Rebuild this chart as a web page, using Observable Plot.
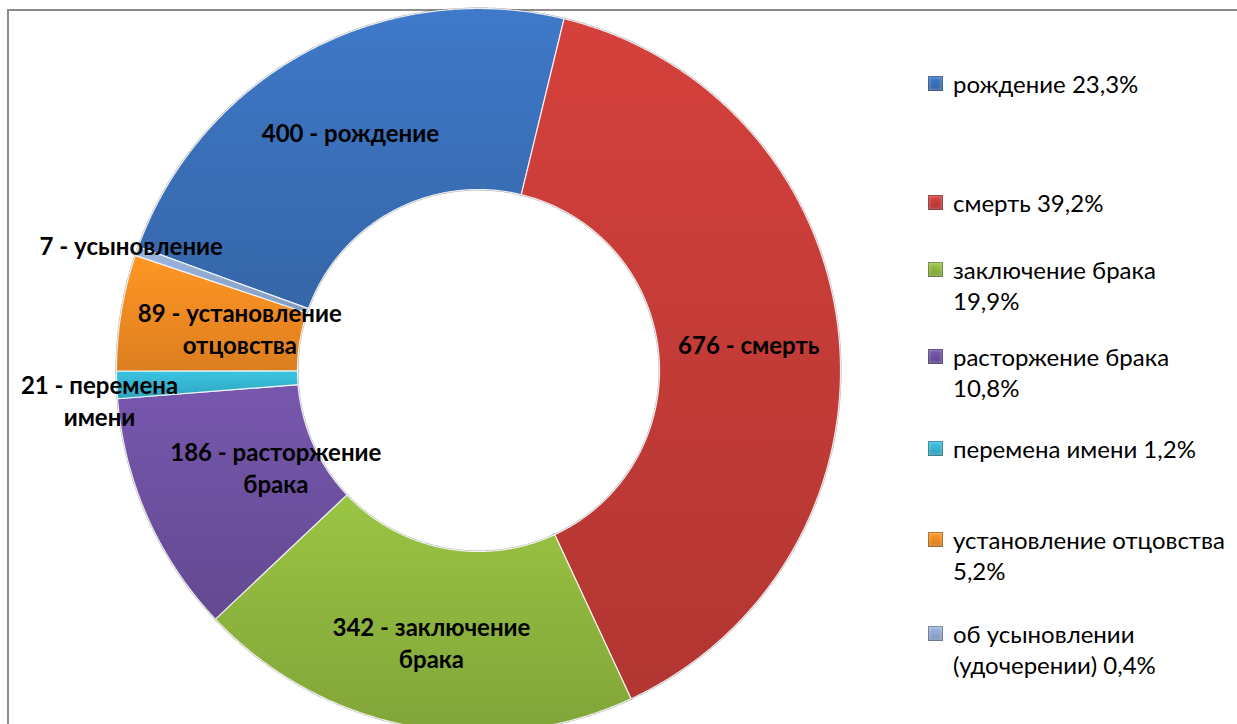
<!DOCTYPE html>
<html>
<head>
<meta charset="utf-8">
<script src="https://cdn.jsdelivr.net/npm/d3@7"></script>
<script src="https://cdn.jsdelivr.net/npm/@observablehq/plot@0.6"></script>
<style>
  body { margin: 0; background: #fff; font-family: Lato, "Open Sans", sans-serif; }
  #wrap { position: relative; width: 1237px; height: 724px; overflow: hidden; background: #fff; }
  #frame { position: absolute; left: 7px; top: 9px; width: 1260px; height: 760px;
           border-left: 2px solid #8c8c8c; border-top: 2px solid #8c8c8c; }
  #chart { position: absolute; left: 0; top: 0; }
  #legend { position: absolute; left: 928px; top: 0; }
  .item { position: absolute; left: 0; display: flex; align-items: flex-start;
          white-space: pre; font-size: 24px; line-height: 31px; color: #000; }
  .sw { width: 15px; height: 15px; margin-top: 8px; margin-right: 10px; flex: none;
        box-shadow: inset 0 0 0 1px rgba(0,0,0,0.3), inset 0 0 3px 2px rgba(255,255,255,0.25); }
</style>
</head>
<body>
<div id="wrap">
  <div id="frame"></div>
  <div id="chart"></div>
  <div id="legend"></div>
</div>
<script>
// ---- data ----
const categories = ["рождение", "смерть", "заключение брака", "расторжение брака",
                    "перемена имени", "установление отцовства", "об усыновлении (удочерении)"];
const values = [400, 676, 342, 186, 21, 89, 7];
const shortNames = ["рождение", "смерть", "заключение\nбрака", "расторжение\nбрака",
                    "перемена\nимени", "установление\nотцовства", "усыновление"];
const legendLabels = ["рождение 23,3%", "смерть 39,2%", "заключение брака\n19,9%",
                      "расторжение брака\n10,8%", "перемена имени 1,2%",
                      "установление отцовства\n5,2%", "об усыновлении\n(удочерении) 0,4%"];

// ---- style / layout ----
const colors = ["#3a6fb8", "#c33b37", "#8db43e", "#6d509f", "#35b4d0", "#ef8a22", "#8fa8d0"];
const labelRadius = [0.75, 0.75, 0.76, 0.62, 1.05, 0.67, 1.02];
const labelAngleNudge = [0, 0, -1, -1.5, -2.1, 1, 0.6];   // degrees
const legendTops = [68, 187, 254, 341, 433, 524, 618];
const firstSliceAngle = 290;   // degrees, clockwise from 12 o'clock
const holeRatio = 0.5;
const cx = 478, cy = 370, R = 362;

// ---- geometry from values ----
const total = d3.sum(values);
let acc = firstSliceAngle * Math.PI / 180;
const slices = values.map((v, i) => {
  const a0 = acc, a1 = acc + v / total * 2 * Math.PI;
  acc = a1;
  return {name: categories[i], value: v, a0, a1, i};
});
const pts = [];
for (const s of slices) {
  const n = Math.max(2, Math.ceil((s.a1 - s.a0) / 0.005));
  for (let k = 0; k <= n; k++) {
    const a = s.a0 + (s.a1 - s.a0) * k / n;
    pts.push({name: s.name, x: Math.sin(a), y: Math.cos(a)});
  }
  for (let k = n; k >= 0; k--) {
    const a = s.a0 + (s.a1 - s.a0) * k / n;
    pts.push({name: s.name, x: holeRatio * Math.sin(a), y: holeRatio * Math.cos(a)});
  }
}
const labels = slices.map(s => {
  const m = (s.a0 + s.a1) / 2 + labelAngleNudge[s.i] * Math.PI / 180, r = labelRadius[s.i];
  return {x: r * Math.sin(m), y: r * Math.cos(m), text: `${s.value} - ${shortNames[s.i]}`};
});

const gradIds = categories.map((_, i) => `g${i}`);

const chart = Plot.plot({
  width: 1237,
  height: 724,
  margin: 0,
  style: {fontFamily: "Lato, 'Open Sans', sans-serif", background: "transparent"},
  x: {domain: [-1, 1], range: [cx - R, cx + R], axis: null},
  y: {domain: [-1, 1], range: [cy + R, cy - R], axis: null},
  color: {type: "ordinal", domain: categories, range: gradIds.map(id => `url(#${id})`)},
  marks: [
    // soft dark rim, like the original bevel outline
    Plot.line(pts, {x: "x", y: "y", z: "name", stroke: "#000", strokeOpacity: 0.35,
                    strokeWidth: 2, fill: "none", curve: "linear-closed"}),
    Plot.line(pts, {x: "x", y: "y", z: "name", fill: "name", stroke: "#ffffff",
                    strokeWidth: 1.2, strokeOpacity: 0.85, curve: "linear-closed"}),
    Plot.text(labels, {x: "x", y: "y", text: "text", fontWeight: "bold", fontSize: 24,
                       lineHeight: 1.35, fill: "#000"})
  ]
});

// gradient definitions (top lighter, bottom darker, like the original shading)
const defs = d3.select(chart).insert("defs", ":first-child");
colors.forEach((c, i) => {
  const g = defs.append("linearGradient").attr("id", gradIds[i])
    .attr("x1", 0).attr("y1", 0).attr("x2", 0).attr("y2", 1);
  g.append("stop").attr("offset", "0%").attr("stop-color", d3.color(c).brighter(0.25));
  g.append("stop").attr("offset", "50%").attr("stop-color", c);
  g.append("stop").attr("offset", "100%").attr("stop-color", d3.color(c).darker(0.25));
});
document.getElementById("chart").appendChild(chart);

// legend
const legend = d3.select("#legend");
categories.forEach((c, i) => {
  const it = legend.append("div").attr("class", "item").style("top", legendTops[i] + "px");
  it.append("div").attr("class", "sw")
    .style("background", `linear-gradient(${d3.color(colors[i]).brighter(0.3)}, ${colors[i]} 50%, ${d3.color(colors[i]).darker(0.4)})`);
  it.append("div").text(legendLabels[i]);
});
</script>
</body>
</html>
